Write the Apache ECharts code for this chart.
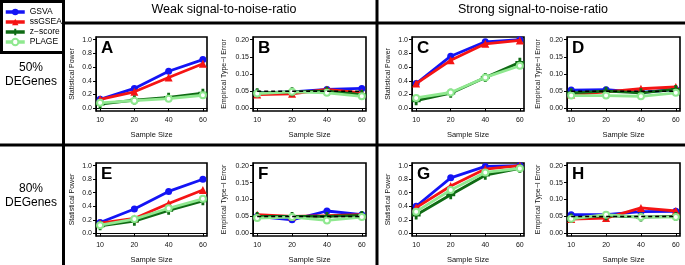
<!DOCTYPE html>
<html>
<head>
<meta charset="utf-8">
<script src="https://cdn.jsdelivr.net/npm/echarts@6/dist/echarts.min.js"></script>
<style>
  html, body { margin: 0; padding: 0; background: #fff; }
  #chart { width: 685px; height: 265px; }
</style>
</head>
<body>
<div id="chart"></div>
<script>
// sample sizes shown on the x axis (evenly spaced, position = index + 1)
const sampleSizes = ["10", "20", "40", "60"];
const xPos = [1, 2, 3, 4];
const methods = ["GSVA", "ssGSEA", "z\u2212score", "PLAGE"];
const powerTicks = [0, 0.2, 0.4, 0.6, 0.8, 1.0];
const errorTicks = [0, 0.05, 0.1, 0.15, 0.2];
const alphaLevel = 0.05;

// each panel: one row per method (GSVA, ssGSEA, z-score, PLAGE)
// 50% DE genes, weak signal
const panelA = [[0.13, 0.29, 0.54, 0.71], [0.13, 0.24, 0.45, 0.65], [0.06, 0.12, 0.16, 0.22], [0.08, 0.11, 0.14, 0.19]];
const panelB = [[0.045, 0.048, 0.055, 0.058], [0.040, 0.042, 0.055, 0.045], [0.045, 0.048, 0.050, 0.040], [0.043, 0.048, 0.045, 0.035]];
// 50% DE genes, strong signal
const panelC = [[0.36, 0.76, 0.97, 1.00], [0.36, 0.70, 0.94, 0.99], [0.11, 0.22, 0.45, 0.67], [0.15, 0.23, 0.45, 0.62]];
const panelD = [[0.053, 0.054, 0.046, 0.055], [0.040, 0.048, 0.057, 0.062], [0.045, 0.050, 0.045, 0.055], [0.037, 0.037, 0.035, 0.045]];
// 80% DE genes, weak signal
const panelE = [[0.16, 0.36, 0.62, 0.80], [0.15, 0.22, 0.44, 0.64], [0.11, 0.18, 0.34, 0.48], [0.12, 0.21, 0.37, 0.51]];
const panelF = [[0.050, 0.040, 0.066, 0.055], [0.055, 0.050, 0.052, 0.055], [0.050, 0.050, 0.050, 0.053], [0.045, 0.048, 0.038, 0.048]];
// 80% DE genes, strong signal
const panelG = [[0.40, 0.82, 0.99, 1.00], [0.38, 0.70, 0.95, 1.00], [0.27, 0.57, 0.86, 0.96], [0.32, 0.64, 0.90, 0.96]];
const panelH = [[0.055, 0.055, 0.064, 0.065], [0.042, 0.045, 0.075, 0.066], [0.045, 0.052, 0.048, 0.050], [0.043, 0.055, 0.048, 0.048]];

const colors = ["#1414f5", "#f51414", "#0f6b14", "#8fe88f"];
const plusPath = "path://M-1,-3.2H1V-1H3.2V1H1V3.2H-1V1H-3.2V-1H-1Z";
const symbols = ["circle", "triangle", plusPath, "emptyCircle"];
const symbolSizes = [7, 8, 9, 6];

const panels = [
  { letter: "A", data: panelA, power: true, left: 96, top: 37, width: 111 },
  { letter: "B", data: panelB, power: false, left: 253, top: 37, width: 113 },
  { letter: "C", data: panelC, power: true, left: 412, top: 37, width: 112 },
  { letter: "D", data: panelD, power: false, left: 567, top: 37, width: 113 },
  { letter: "E", data: panelE, power: true, left: 96, top: 163, width: 111 },
  { letter: "F", data: panelF, power: false, left: 253, top: 163, width: 113 },
  { letter: "G", data: panelG, power: true, left: 412, top: 163, width: 112 },
  { letter: "H", data: panelH, power: false, left: 567, top: 163, width: 113 }
];
const plotH = 74;
const font = "Liberation Sans";

let grids = [], xAxes = [], yAxes = [], series = [], graphics = [];

panels.forEach(function (p, i) {
  grids.push({
    left: p.left, top: p.top, width: p.width, height: plotH,
    show: true, borderColor: "#000", borderWidth: 1.6
  });
  xAxes.push({
    gridIndex: i, type: "value", min: 0.88, max: 4.12,
    splitLine: { show: false },
    axisLine: { show: true, lineStyle: { color: "#000", width: 1 } },
    axisTick: { show: true, customValues: xPos, length: 3, lineStyle: { color: "#000" } },
    axisLabel: {
      customValues: xPos, fontSize: 7, margin: 6, color: "#111", fontFamily: font,
      formatter: function (v) { return sampleSizes[Math.round(v) - 1]; }
    },
    name: "Sample Size", nameLocation: "middle", nameGap: 20,
    nameTextStyle: { fontSize: 7.5, color: "#111", fontFamily: font }
  });
  const ticks = p.power ? powerTicks : errorTicks;
  const ymax = p.power ? 1 : 0.2;
  yAxes.push({
    gridIndex: i, type: "value", min: -0.04 * ymax, max: 1.04 * ymax,
    splitLine: { show: false },
    axisLine: { show: true, lineStyle: { color: "#000", width: 1 } },
    axisTick: { show: true, customValues: ticks, length: 3, lineStyle: { color: "#000" } },
    axisLabel: {
      customValues: ticks, fontSize: 7, margin: 4, color: "#111", fontFamily: font,
      formatter: function (v) { return v.toFixed(p.power ? 1 : 2); }
    },
    name: p.power ? "Statistical Power" : "Empirical Type\u2212I Error",
    nameLocation: "middle", nameGap: p.power ? 20 : 25,
    nameTextStyle: { fontSize: 7, color: "#111", fontFamily: font }
  });
  p.data.forEach(function (vals, m) {
    series.push({
      name: methods[m], type: "line", xAxisIndex: i, yAxisIndex: i,
      data: vals.map(function (v, k) { return [xPos[k], v]; }),
      symbol: symbols[m], symbolSize: symbolSizes[m], showSymbol: true,
      color: colors[m],
      lineStyle: { width: 2.8, color: colors[m] },
      itemStyle: { color: colors[m], borderColor: colors[m], borderWidth: m === 3 ? 2 : 0 },
      animation: false, z: 2 + m
    });
  });
  if (!p.power) {
    series.push({
      name: "alpha", type: "line", xAxisIndex: i, yAxisIndex: i,
      data: xPos.map(function (x) { return [x, alphaLevel]; }),
      symbol: "none",
      lineStyle: { width: 1.5, color: "#000", type: [4, 3] },
      animation: false, z: 10
    });
  }
  graphics.push({
    type: "text", left: p.left + 5, top: p.top + 3,
    style: { text: p.letter, font: "bold 17px " + font, fill: "#000" }
  });
});

function bar(x1, y1, x2, y2) {
  return { type: "line", shape: { x1: x1, y1: y1, x2: x2, y2: y2 }, style: { stroke: "#000", lineWidth: 3 } };
}
graphics.push(
  { type: "rect", shape: { x: 1.5, y: 1.5, width: 62, height: 51 }, style: { fill: "none", stroke: "#000", lineWidth: 3 } },
  bar(63.5, 52, 63.5, 265),
  bar(63.5, 23, 685, 23),
  bar(377, 0, 377, 265),
  bar(0, 145, 685, 145),
  { type: "text", x: 224, y: 10, style: { text: "Weak signal-to-noise-ratio", font: "12.5px " + font, fill: "#000", align: "center", verticalAlign: "middle" } },
  { type: "text", x: 533, y: 10, style: { text: "Strong signal-to-noise-ratio", font: "12.5px " + font, fill: "#000", align: "center", verticalAlign: "middle" } },
  { type: "text", x: 31, y: 75, style: { text: "50%\nDEGenes", font: "12px " + font, fill: "#000", align: "center", verticalAlign: "middle", lineHeight: 14 } },
  { type: "text", x: 31, y: 196, style: { text: "80%\nDEGenes", font: "12px " + font, fill: "#000", align: "center", verticalAlign: "middle", lineHeight: 14 } }
);

const chart = echarts.init(document.getElementById("chart"));
chart.setOption({
  animation: false,
  legend: {
    data: methods, orient: "vertical", left: 4, top: 7, padding: 0,
    itemWidth: 19, itemHeight: 8, itemGap: 0,
    lineStyle: { width: 3.5 },
    textStyle: { fontSize: 8.5, lineHeight: 10, fontFamily: font, color: "#000" }
  },
  grid: grids,
  xAxis: xAxes,
  yAxis: yAxes,
  series: series,
  graphic: graphics
});
</script>
</body>
</html>
